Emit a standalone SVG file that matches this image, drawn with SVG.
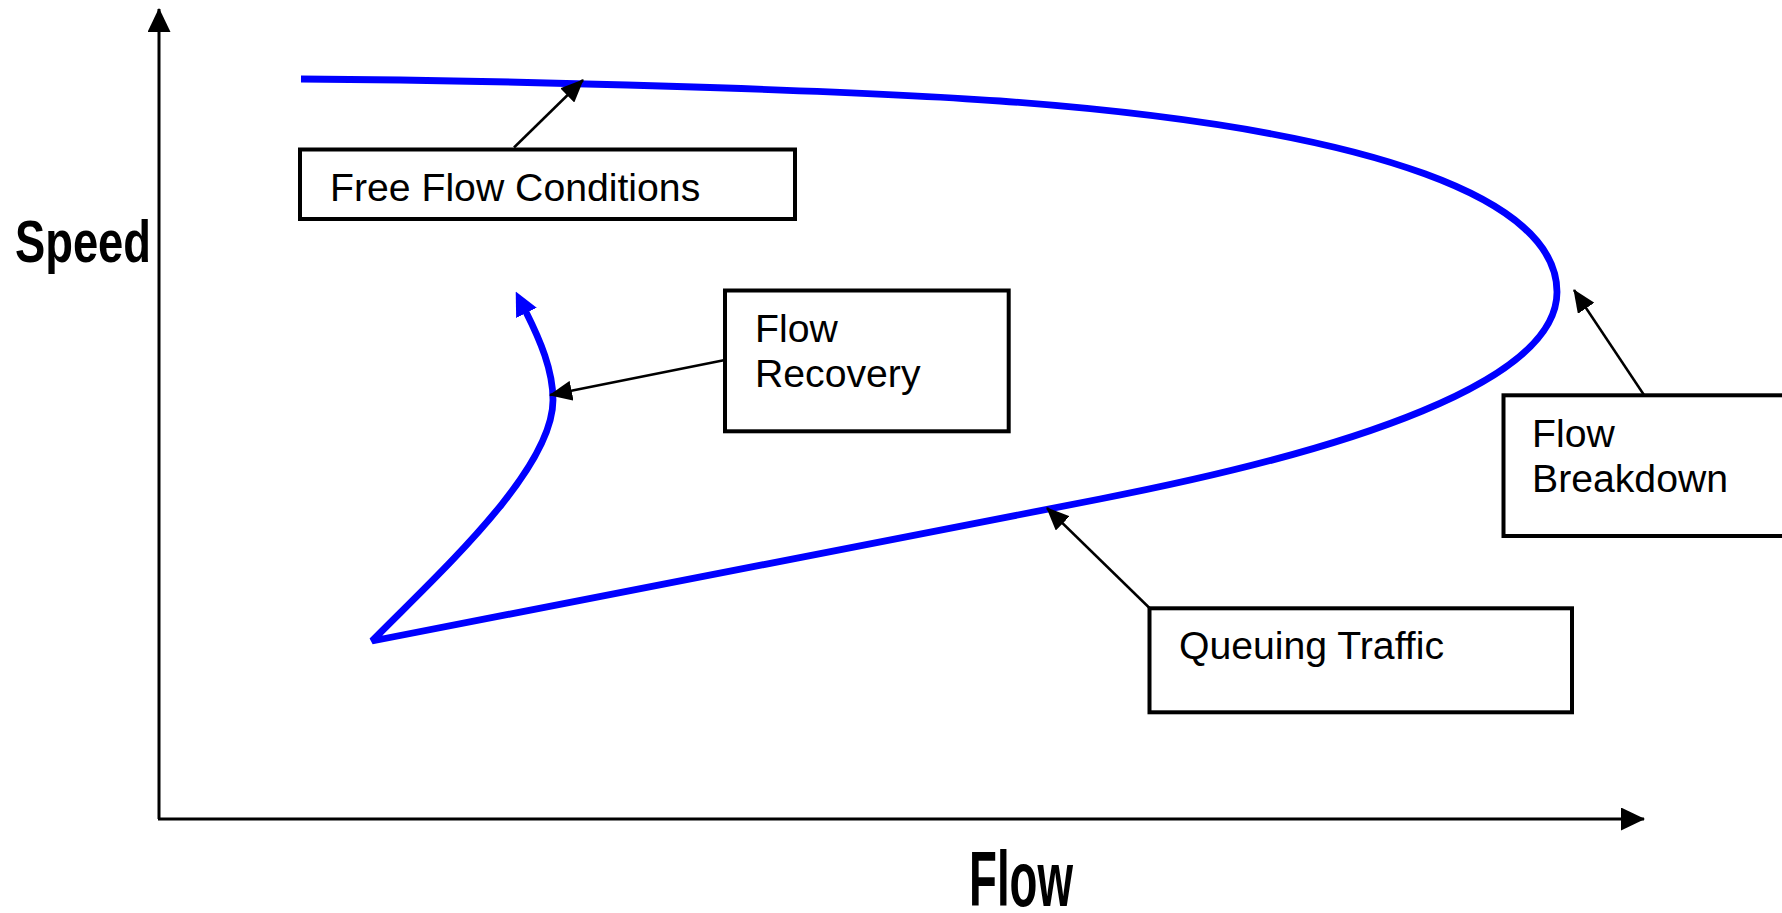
<svg xmlns="http://www.w3.org/2000/svg" width="1782" height="913" viewBox="0 0 1782 913">
<style>
  .box { fill: #ffffff; stroke: #000000; stroke-width: 4; }
  .lbl { font-family: "Liberation Sans", Arial, sans-serif; font-size: 39.2px; fill: #000000; }
  .axlbl { font-family: "Liberation Sans", Arial, sans-serif; font-weight: bold; fill: #000000; }
  .conn { stroke: #000000; stroke-width: 2.5; fill: none; marker-end: url(#arrow); }
  .axis { stroke: #000000; stroke-width: 3; fill: none; marker-end: url(#axisArrow); }
  .curve { stroke: #0000ff; stroke-width: 6.8; fill: none; stroke-linejoin: bevel; marker-end: url(#blueArrow); }
</style>
<defs>
  <marker id="arrow" viewBox="0 0 23 20" refX="22" refY="10" markerWidth="23" markerHeight="20" markerUnits="userSpaceOnUse" orient="auto">
    <path d="M0,0 L23,10 L0,20 z" fill="#000000"/>
  </marker>
  <marker id="axisArrow" viewBox="0 0 24 23" refX="23" refY="11.5" markerWidth="24" markerHeight="23" markerUnits="userSpaceOnUse" orient="auto">
    <path d="M0,0 L24,11.5 L0,23 z" fill="#000000"/>
  </marker>
  <marker id="blueArrow" viewBox="0 0 24 23" refX="1" refY="11.5" markerWidth="24" markerHeight="23" markerUnits="userSpaceOnUse" orient="auto">
    <path d="M0,0 L24,11.5 L0,23 z" fill="#0000ff"/>
  </marker>
</defs>
<rect x="0" y="0" width="1782" height="913" fill="#ffffff"/>

<g id="axes">
  <line class="axis" x1="159" y1="819" x2="159" y2="9"/>
  <line class="axis" x1="158" y1="819" x2="1644" y2="819"/>
  <text id="speed-label" class="axlbl" x="15" y="262" font-size="59" textLength="136" lengthAdjust="spacingAndGlyphs">Speed</text>
  <text id="flow-label" class="axlbl" x="969" y="906" font-size="77" textLength="104" lengthAdjust="spacingAndGlyphs">Flow</text>
</g>

<g id="speed-flow-curve">
  <path class="curve" d="M301,79 C500,80 850,90 1000,101 C1390,129.5 1557,203 1557,292 C1557,382 1350,450.3 1100,499 L372,641 C440,572 553,470 553,400 C553,370 540,340 526,312"/>
</g>

<g id="connectors">
  <line class="conn" x1="514" y1="147.5" x2="583" y2="80"/>
  <line class="conn" x1="725" y1="360" x2="550" y2="395"/>
  <line class="conn" x1="1644" y1="395" x2="1574" y2="290"/>
  <line class="conn" x1="1149.5" y1="608" x2="1047" y2="508"/>
</g>

<g id="node-free-flow">
  <rect class="box" x="300" y="149.5" width="495" height="69.5"/>
  <text class="lbl" x="330" y="201">Free Flow Conditions</text>
</g>

<g id="node-flow-recovery">
  <rect class="box" x="725" y="290.5" width="283.7" height="140.8"/>
  <text class="lbl" x="755" y="342">Flow</text>
  <text class="lbl" x="755" y="387">Recovery</text>
</g>

<g id="node-flow-breakdown">
  <rect class="box" x="1503.5" y="395.3" width="300" height="140.7"/>
  <text class="lbl" x="1532" y="447">Flow</text>
  <text class="lbl" x="1532" y="492">Breakdown</text>
</g>

<g id="node-queuing-traffic">
  <rect class="box" x="1149.5" y="608.3" width="422.5" height="104"/>
  <text class="lbl" x="1179" y="659">Queuing Traffic</text>
</g>
</svg>
